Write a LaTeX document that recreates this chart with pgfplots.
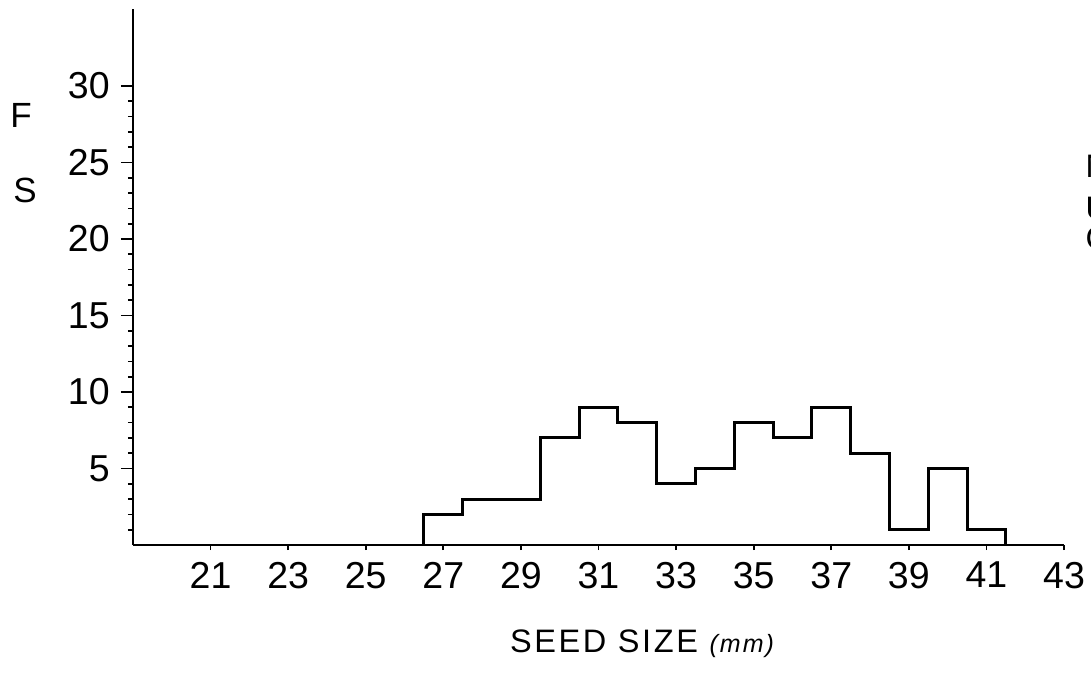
\documentclass[border=0pt]{standalone}
\usepackage{fontspec}
\setmainfont{Liberation Sans}
\usepackage{pgfplots}
\pgfplotsset{compat=1.18}
\begin{document}
\begin{tikzpicture}[x=1pt,y=1pt]
\begin{axis}[
  at={(0,0)}, anchor=south west,
  scale only axis, width=372.4pt, height=214.2pt,
  xmin=19, xmax=43, ymin=0, ymax=35,
  axis lines*=left,
  axis line style={line width=0.8pt},
  xtick={21,23,...,43},
  ytick={5,10,...,30},
  minor ytick={1,...,29},
  tick align=outside,
  major tick length=4.8pt, minor tick length=2pt,
  every tick/.style={black, line width=0.7pt},
  xtick style={/pgfplots/major tick length=2pt},
  /pgf/number format/assume math mode=true,
  ticklabel style={font=\fontsize{15}{15}\selectfont},
  yticklabel style={xshift=-1pt},
  xticklabel style={yshift=1.5pt},
  clip=false,
]
\addplot[black, line width=1.2pt, const plot, line join=miter] coordinates {
(26.5,0) (26.5,2) (27.5,3) (28.5,3) (29.5,7) (30.5,9) (31.5,8) (32.5,4)
(33.5,5) (34.5,8) (35.5,7) (36.5,9) (37.5,6) (38.5,1) (39.5,5) (40.5,1) (41.5,0)};
\end{axis}
\node[font=\fontsize{14}{14}\selectfont] at (-44.8,172) {F};
\node[font=\fontsize{14}{14}\selectfont] at (-43.2,142) {S};
\node[font=\fontsize{13}{13}\selectfont, anchor=west, inner sep=0pt] at (380.8,151.6) {N};
\node[font=\fontsize{13}{13}\selectfont, anchor=west, inner sep=0pt] at (380.8,134.8) {U};
\node[font=\fontsize{13}{13}\selectfont, anchor=west, inner sep=0pt] at (380.8,122.8) {C};
\node[font=\fontsize{13}{13}\selectfont] at (203.6,-39.6) {\addfontfeature{LetterSpace=8}SEED SIZE {\fontsize{10}{10}\selectfont\itshape (mm)}};
\pgfresetboundingbox
\path[use as bounding box] (-53.2,-52.4) rectangle (383.2,218);
\end{tikzpicture}
\end{document}
